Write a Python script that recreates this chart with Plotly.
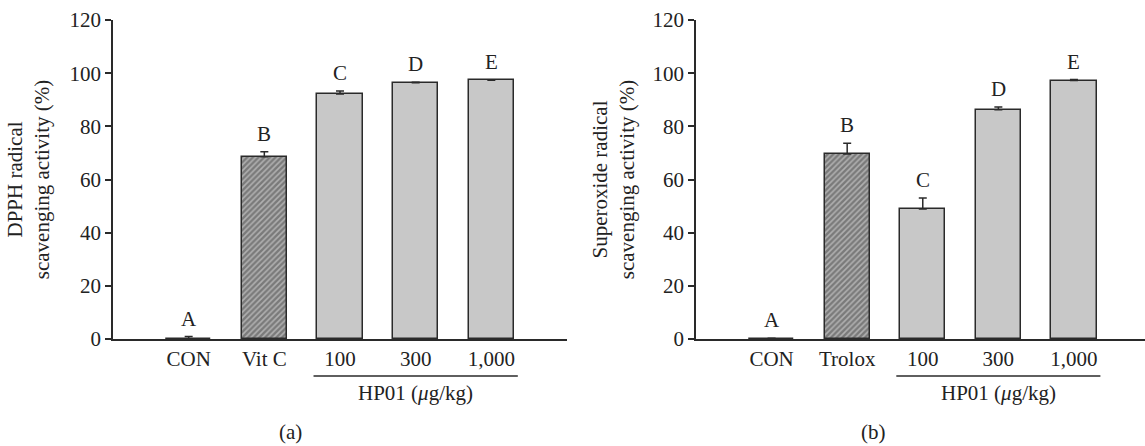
import plotly.graph_objects as go

# ---- data ----
cats_a = ["CON", "Vit C", "100", "300", "1,000"]
vals_a = [0.1, 68.6, 92.2, 96.4, 97.3]
err_a = [0.8, 1.8, 1.1, 0.2, 0.2]
letters_a = ["A", "B", "C", "D", "E"]

cats_b = ["CON", "Trolox", "100", "300", "1,000"]
vals_b = [0.05, 69.6, 48.9, 86.2, 97.2]
err_b = [0.2, 4.0, 4.1, 1.1, 0.4]
letters_b = ["A", "B", "C", "D", "E"]

ytitle_a = "DPPH radical<br>scavenging activity (%)"
ytitle_b = "Superoxide radical<br>scavenging activity (%)"
group_label = "HP01 (<i>μ</i>g/kg)"
panel_labels = ["(a)", "(b)"]

FONT = "Liberation Serif"
FS = 21
GRAY = "#c8c8c8"
LINE = "#2a2a2a"
TXT = "#222222"

fig = go.Figure()

def add_panel(cats, vals, errs, letters, xa, ya):
    pos = list(range(len(cats)))
    colors = [GRAY] * len(cats)
    colors[1] = "#b0b0b0"
    shapes = [""] * len(cats)
    shapes[1] = "/"
    fig.add_trace(go.Bar(
        x=pos, y=vals, width=0.6, xaxis=xa, yaxis=ya,
        marker=dict(color=colors, line=dict(color=LINE, width=1.5),
                    pattern=dict(shape=shapes, fgcolor="#1a1a1a", size=4, solidity=0.6,
                                 fillmode="overlay")),
        error_y=dict(type="data", array=errs, arrayminus=[0] * len(errs), symmetric=False,
                     color=LINE, thickness=1.5, width=4),
        showlegend=False, hoverinfo="skip",
    ))
    for p, v, e, t in zip(pos, vals, errs, letters):
        fig.add_annotation(x=p, y=v + e, xref=xa, yref=ya, text=t, showarrow=False,
                           yanchor="bottom", yshift=4, font=dict(family=FONT, size=FS, color=TXT))

add_panel(cats_a, vals_a, err_a, letters_a, "x", "y")
add_panel(cats_b, vals_b, err_b, letters_b, "x2", "y2")

W, H = 1145, 446
axis_common = dict(showline=True, linecolor=LINE, linewidth=1.5, zeroline=False, showgrid=False,
                   tickfont=dict(family=FONT, size=FS, color=TXT))

fig.update_layout(
    width=W, height=H, margin=dict(l=0, r=0, t=20, b=107),
    plot_bgcolor="white", paper_bgcolor="white", bargap=0,
    xaxis=dict(domain=[113 / W, 567 / W], range=[-1, 5], tickvals=list(range(5)), ticktext=cats_a,
               ticks="", anchor="y", **axis_common),
    yaxis=dict(domain=[0, 1], range=[0, 120], tickvals=[0, 20, 40, 60, 80, 100, 120],
               ticks="outside", ticklen=6, tickwidth=1.5, tickcolor=LINE, anchor="x",
               title=dict(text=ytitle_a, font=dict(family=FONT, size=FS, color=TXT), standoff=14),
               **axis_common),
    xaxis2=dict(domain=[696 / W, 1.0], range=[-1, 4.94], tickvals=list(range(5)), ticktext=cats_b,
                ticks="", anchor="y2", **axis_common),
    yaxis2=dict(domain=[0, 1], range=[0, 120], tickvals=[0, 20, 40, 60, 80, 100, 120],
                ticks="outside", ticklen=6, tickwidth=1.5, tickcolor=LINE, anchor="x2",
                title=dict(text=ytitle_b, font=dict(family=FONT, size=FS, color=TXT), standoff=12),
                **axis_common),
)

# group underline and labels
for xa, lab in (("x", panel_labels[0]), ("x2", panel_labels[1])):
    fig.add_shape(type="line", xref=xa, yref="paper", x0=1.65, x1=4.35, y0=-0.116, y1=-0.116,
                  line=dict(color=LINE, width=1.5))
    fig.add_annotation(x=3, y=-0.17, xref=xa, yref="paper", text=group_label, showarrow=False,
                       yanchor="middle", font=dict(family=FONT, size=FS, color=TXT))
    fig.add_annotation(x=1.35, y=-0.29, xref=xa, yref="paper", text=lab, showarrow=False,
                       yanchor="middle", font=dict(family=FONT, size=FS, color=TXT))

fig.write_html("out.html", config={"displayModeBar": False},
               post_script="document.body.style.margin='0';document.body.style.overflow='hidden';")
